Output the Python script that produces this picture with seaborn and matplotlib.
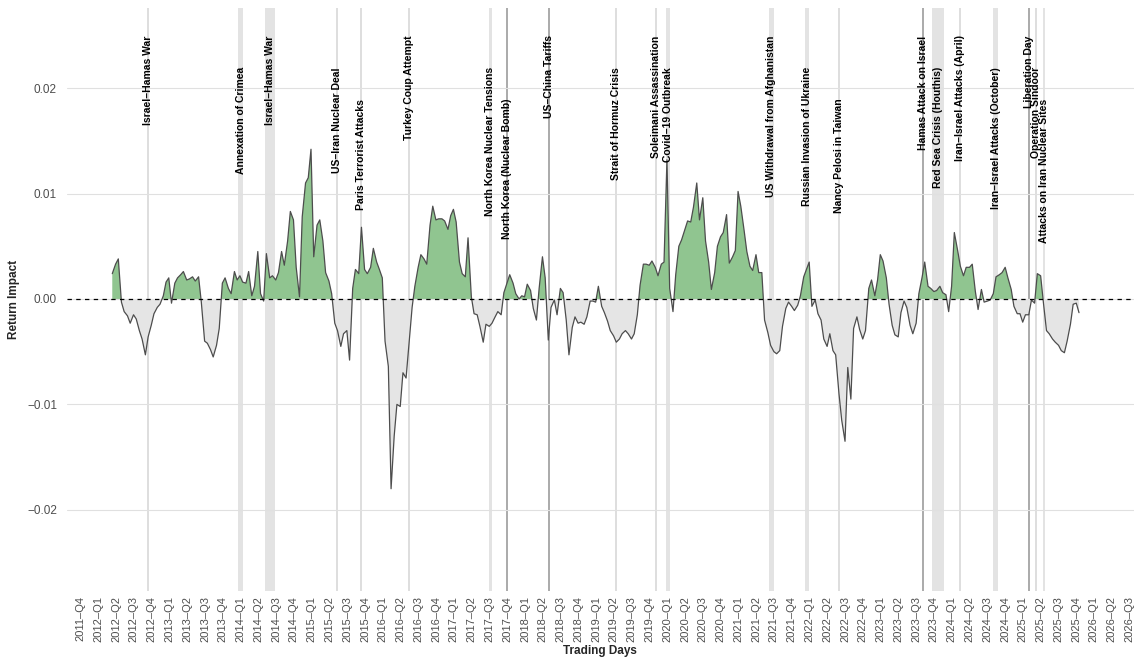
"""
Return impact of geopolitical events, redrawn with seaborn
"""
# Import the needed libraries
import numpy as np
import pandas as pd
import matplotlib

matplotlib.use("Agg")
import matplotlib.pyplot as plt
from matplotlib.ticker import FuncFormatter
import seaborn as sns

# Semi-monthly readings of the return impact (in thousandths), from 2012-05-15
series_start = "2012-05-15"
impact_2012_2015 = [
    2.4, 3.3, 3.8, -0.3, -1.2, -1.6, -2.3, -1.5, -1.9, -3.0,
    -3.8, -5.3, -3.6, -2.5, -1.4, -0.8, -0.5, 0.3, 1.6, 2.0,
    -0.4, 1.5, 2.0, 2.3, 2.6, 1.8, 1.9, 2.1, 1.7, 2.1,
    -0.3, -4.0, -4.2, -4.8, -5.5, -4.4, -2.8, 1.5, 2.0, 1.0,
    0.5, 2.6, 1.8, 2.2, 1.6, 1.5, 2.6, 0.3, 1.2, 4.5,
    0.5, -0.2, 4.3, 2.0, 2.2, 1.8, 2.5, 4.5, 3.2, 5.5,
    8.3, 7.5, 3.0, 0.2, 7.8, 11.0,
]
impact_2015_2017 = [
    11.5, 14.2, 4.0, 7.0, 7.5, 5.5, 2.5, 1.7, 0.5, -2.3,
    -3.0, -4.5, -3.3, -3.0, -5.8, 1.0, 2.8, 2.4, 6.8, 2.8,
    2.4, 3.0, 4.8, 3.5, 2.8, 2.0, -4.0, -6.4, -18.0, -13.0,
    -10.0, -10.2, -7.0, -7.5, -4.5, -0.8, 1.2, 3.0, 4.2, 3.8,
    3.3, 7.0, 8.8, 7.5, 7.6, 7.6, 7.4, 6.6, 7.9, 8.5,
    7.3, 3.5, 2.4, 2.1, 5.8, 0.2, -1.4, -1.5, -2.6, -4.1,
    -2.4, -2.6, -2.3, -1.7, -1.2,
]
impact_2017_2020 = [
    -1.5, 0.6, 1.5, 2.3, 1.5, 0.5, 0.0, 0.3, 0.2, 1.4,
    0.8, -0.9, -2.0, 1.0, 4.0, 2.0, -3.9, -0.8, -0.1, -1.5,
    1.0, 0.6, -2.0, -5.3, -2.7, -1.7, -2.3, -2.2, -2.4, -1.7,
    -0.2, -0.2, -0.3, 1.2, -0.7, -1.3, -2.1, -3.0, -3.5, -4.1,
    -3.8, -3.3, -3.0, -3.3, -3.8, -3.3, -1.5, 1.3, 3.3, 3.3,
    3.2, 3.6, 3.0, 2.2, 3.3, 3.5, 13.2, 1.0, -1.2, 2.3,
    5.0, 5.6, 6.6, 7.4, 7.3, 8.7,
]
impact_2020_2023 = [
    11.0, 7.5, 9.6, 5.5, 3.5, 0.9, 2.5, 5.0, 5.9, 6.3,
    8.0, 3.4, 4.0, 4.6, 10.2, 8.8, 6.5, 4.5, 3.1, 2.7,
    4.2, 2.5, 2.5, -2.0, -3.2, -4.4, -5.0, -5.2, -4.9, -2.6,
    -0.9, -0.3, -0.7, -1.1, -0.6, 0.3, 2.1, 2.8, 3.5, -0.7,
    -0.1, -1.4, -2.0, -3.8, -4.5, -3.3, -4.9, -5.3, -9.0, -11.5,
    -13.5, -6.5, -9.5, -2.8, -1.7, -2.9, -3.8, -3.0, 1.0, 1.8,
    0.3, 1.8, 4.2, 3.6,
]
impact_2023_2025 = [
    2.0, -0.5, -2.5, -3.4, -3.6, -1.3, -0.2, -0.8, -2.5, -3.3,
    -2.3, 0.5, 2.0, 3.5, 1.2, 1.0, 0.7, 0.8, 1.2, 0.6,
    0.4, -1.2, 1.2, 6.3, 4.6, 3.1, 2.2, 3.0, 3.0, 3.3,
    0.7, -1.0, 0.9, -0.3, -0.2, -0.1, 0.5, 2.1, 2.3, 2.5,
    3.0, 2.0, 0.9, -0.7, -1.4, -1.4, -2.2, -1.5, -1.5, -0.1,
    -0.4, 2.4, 2.2, -0.3, -3.0, -3.3, -3.8, -4.1, -4.4, -4.9,
    -5.1, -4.0, -2.4, -0.5, -0.4, -1.3,
]

# Geopolitical events (single day when start == end)
event_names = [
    "Israel–Hamas War", "Annexation of Crimea", "Israel–Hamas War",
    "US–Iran Nuclear Deal", "Paris Terrorist Attacks", "Turkey Coup Attempt",
    "North Korea Nuclear Tensions", "North Korea (Nuclear Bomb)",
    "US–China Tariffs", "Strait of Hormuz Crisis", "Soleimani Assassination",
    "Covid–19 Outbreak", "US Withdrawal from Afghanistan",
    "Russian Invasion of Ukraine", "Nancy Pelosi in Taiwan",
    "Hamas Attack on Israel", "Red Sea Crisis (Houthis)",
    "Iran–Israel Attacks (April)", "Iran–Israel Attacks (October)",
    "Liberation Day", "Operation Sindoor", "Attacks on Iran Nuclear Sites",
]
event_starts = [
    "2012-11-14", "2014-02-20", "2014-07-08", "2015-07-14", "2015-11-13",
    "2016-07-15", "2017-08-29", "2017-11-29", "2018-07-06", "2019-06-13",
    "2020-01-03", "2020-02-24", "2021-08-06", "2022-02-07", "2022-08-02",
    "2023-10-07", "2023-11-19", "2024-04-13", "2024-10-01", "2025-04-02",
    "2025-05-07", "2025-06-13",
]
event_ends = [
    "2012-11-14", "2014-03-18", "2014-08-26", "2015-07-14", "2015-11-13",
    "2016-07-15", "2017-09-15", "2017-11-29", "2018-07-06", "2019-06-13",
    "2020-01-03", "2020-03-18", "2021-08-30", "2022-03-02", "2022-08-02",
    "2023-10-07", "2024-01-20", "2024-04-13", "2024-10-26", "2025-04-02",
    "2025-05-07", "2025-06-24",
]

# Quarter tick labels
tick_labels = ["2011–Q4"] + [
    f"{year}–Q{q}" for year in range(2012, 2027) for q in range(1, 5)
][:59]

# Layout / style settings
label_levels = [0, 1, 0, 1, 2, 0, 1, 2, 0, 1, 0, 1, 0, 1, 2, 0, 1, 0, 1, 0, 1, 2]
dark_events = {"North Korea (Nuclear Bomb)", "US–China Tariffs",
               "Hamas Attack on Israel", "Liberation Day"}
POS_COLOR = "#90c590"
NEG_COLOR = "#e5e5e5"
LINE_COLOR = "#4d4d4d"


def build_series():
    """
    Put the semi-monthly readings into a DataFrame
    """
    values = (impact_2012_2015 + impact_2015_2017 + impact_2017_2020
              + impact_2020_2023 + impact_2023_2025)
    dates = pd.date_range(series_start, periods=len(values), freq="SMS")
    return pd.DataFrame({"date": dates, "impact": np.array(values) / 1000})


def plot_impact(df):
    sns.set_theme(style="white")
    plt.rcParams["font.family"] = ["Liberation Sans", "DejaVu Sans"]

    fig = plt.figure(figsize=(11.36, 6.59), dpi=100)
    ax = fig.add_axes([0.0587, 0.1032, 0.9395, 0.8847])

    # Event markers behind everything
    for name, start, end, level in zip(event_names, event_starts, event_ends, label_levels):
        t0, t1 = pd.Timestamp(start), pd.Timestamp(end)
        if t0 == t1:
            color = "#aaaaaa" if name in dark_events else "#dedede"
            ax.axvline(t0, color=color, lw=1.4, zorder=0.5)
            xpos = t0
        else:
            ax.axvspan(t0, t1, color="#e3e3e3", lw=0, zorder=0.4)
            xpos = t0 + (t1 - t0) / 2
        ax.text(xpos, 0.025 - level * 0.003, name, rotation=90, ha="center",
                va="top", fontsize=7.5, fontweight="bold", color="black", zorder=5)

    # Fill positive and negative parts
    ax.fill_between(df["date"], df["impact"], 0, where=df["impact"] >= 0,
                    interpolate=True, color=POS_COLOR, lw=0, zorder=1)
    ax.fill_between(df["date"], df["impact"], 0, where=df["impact"] < 0,
                    interpolate=True, color=NEG_COLOR, lw=0, zorder=1)
    sns.lineplot(data=df, x="date", y="impact", ax=ax, color=LINE_COLOR,
                 linewidth=0.9, zorder=2)
    ax.axhline(0, color="black", lw=0.9, ls=(0, (3.5, 3.5)), zorder=3)

    # Axes
    ax.set_xlim(pd.Timestamp("2011-09-24"), pd.Timestamp("2026-09-23"))
    ax.set_ylim(-0.0277, 0.0276)
    tick_dates = pd.Timestamp("2011-12-04") + pd.to_timedelta(
        np.arange(len(tick_labels)) * 91.25, unit="D")
    ax.set_xticks(tick_dates)
    ax.set_xticklabels(tick_labels, rotation=90, fontsize=8, color="#4d4d4d")
    ax.set_yticks([-0.02, -0.01, 0.0, 0.01, 0.02])
    ax.yaxis.set_major_formatter(
        FuncFormatter(lambda v, _: f"{v:.2f}".replace("-", "−")))
    ax.tick_params(axis="y", labelsize=8.5, labelcolor="#4d4d4d", length=0, pad=7)
    ax.tick_params(axis="x", length=0, pad=3.5)
    ax.grid(False)
    ax.yaxis.grid(True, color="#e0e0e0", lw=0.8, zorder=0)
    ax.set_axisbelow(True)
    for spine in ax.spines.values():
        spine.set_visible(False)

    ax.set_xlabel("Trading Days", fontsize=8.5, fontweight="bold", labelpad=2)
    ax.set_ylabel("Return Impact", fontsize=8.5, fontweight="bold", labelpad=5)

    fig.savefig("out.png", dpi=100)


if __name__ == "__main__":
    plot_impact(build_series())
